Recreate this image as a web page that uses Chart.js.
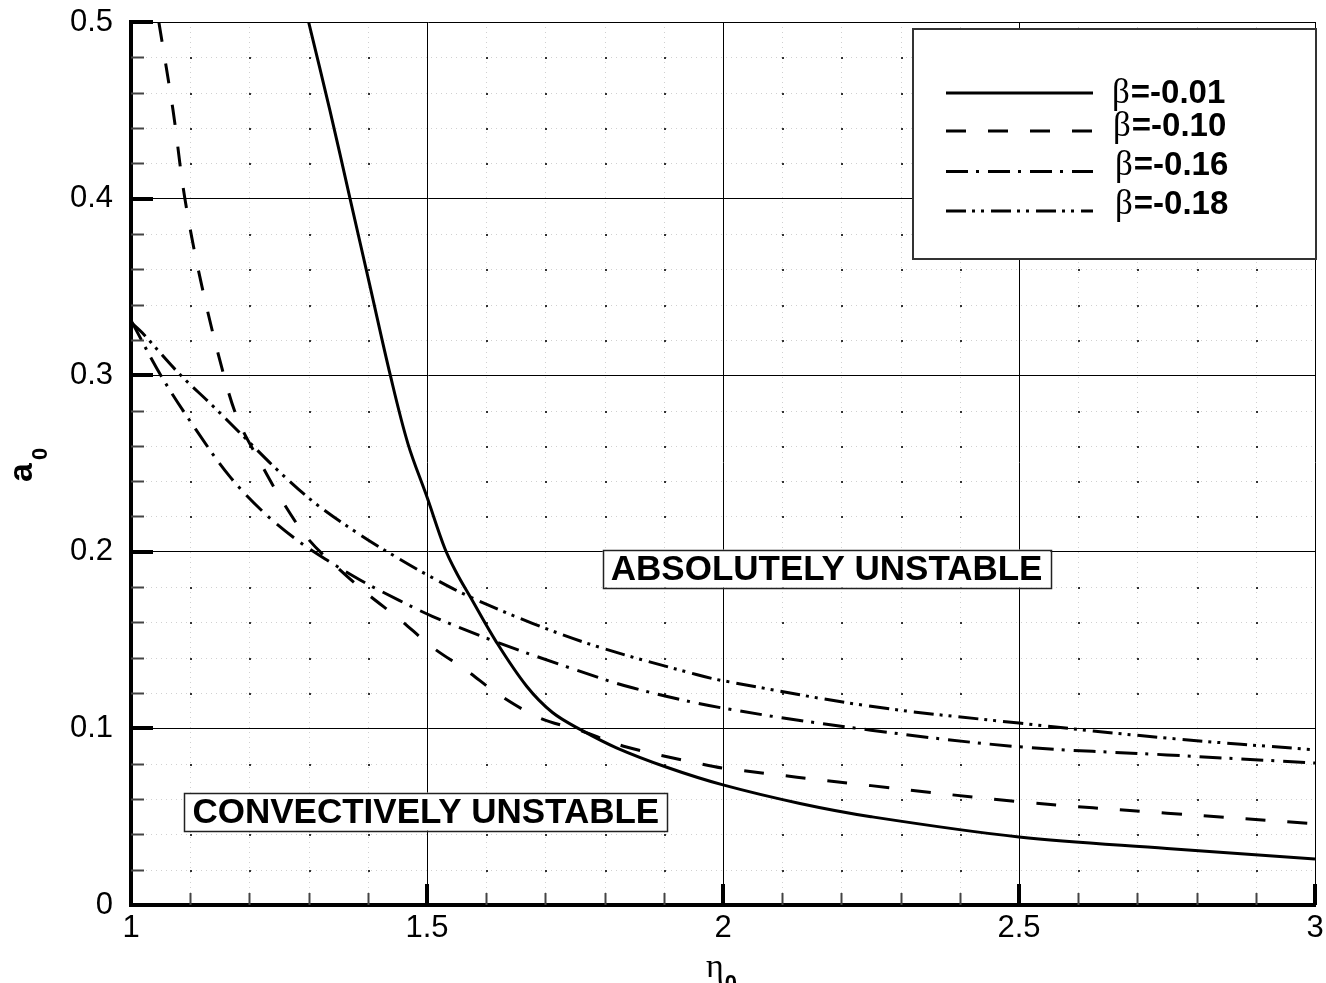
<!DOCTYPE html>
<html>
<head>
<meta charset="utf-8">
<title>a0 vs eta0</title>
<script src="https://cdn.jsdelivr.net/npm/chart.js@4.4.1/dist/chart.umd.min.js"></script>
<style>
  html, body { margin: 0; padding: 0; background: #fff; }
</style>
</head>
<body>
<canvas id="chart" width="1326" height="983"></canvas>
<script>
// curve data: eta0 (x) and a0 (y) for each beta
const etaB001 = [1.300, 1.336, 1.370, 1.404, 1.438, 1.468, 1.5, 1.53, 1.55, 1.573, 1.617, 1.668, 1.712, 1.761, 1.82, 1.905, 2, 2.13, 2.25, 2.5, 2.75, 3];
const aB001   = [0.5, 0.45, 0.4, 0.35, 0.3, 0.261, 0.231, 0.202, 0.188, 0.1745, 0.149, 0.124, 0.109, 0.099, 0.089, 0.078, 0.068, 0.0575, 0.050, 0.0385, 0.032, 0.026];

const etaB010 = [1.047, 1.071, 1.091, 1.12, 1.16, 1.183, 1.216, 1.255, 1.30, 1.352, 1.40, 1.453, 1.509, 1.566, 1.622, 1.69, 1.757, 1.837, 1.961, 2, 2.25, 2.5, 2.75, 3];
const aB010   = [0.5, 0.45, 0.4, 0.35, 0.296, 0.273, 0.252, 0.229, 0.207, 0.19, 0.176, 0.162, 0.146, 0.133, 0.119, 0.106, 0.099, 0.0895, 0.080, 0.0775, 0.0676, 0.0585, 0.052, 0.046];

const etaB016 = [1, 1.052, 1.11, 1.166, 1.222, 1.279, 1.335, 1.39, 1.453, 1.509, 1.617, 1.735, 1.847, 2, 2.25, 2.5, 2.75, 3];
const aB016   = [0.331, 0.299, 0.269, 0.243, 0.223, 0.207, 0.1945, 0.1835, 0.1725, 0.1635, 0.149, 0.135, 0.123, 0.1115, 0.099, 0.0896, 0.085, 0.0804];

const etaB018 = [1, 1.019, 1.081, 1.137, 1.194, 1.25, 1.313, 1.39, 1.453, 1.5, 1.566, 1.678, 1.791, 1.955, 2, 2.25, 2.5, 2.75, 3];
const aB018   = [0.330, 0.324, 0.301, 0.283, 0.264, 0.2455, 0.227, 0.209, 0.196, 0.187, 0.1755, 0.1595, 0.146, 0.1305, 0.127, 0.1125, 0.103, 0.0945, 0.0878];

const betaValues = ['-0.01', '-0.10', '-0.16', '-0.18'];
const xTickValues = [1, 1.5, 2, 2.5, 3];
const yTickValues = [0, 0.1, 0.2, 0.3, 0.4, 0.5];

// region annotations: text and the data point their box is centred on
const regionLabels = ['ABSOLUTELY UNSTABLE', 'CONVECTIVELY UNSTABLE'];
const regionAnchorX = [2.175, 1.498];
const regionAnchorY = [0.1905, 0.0529];

const SANS = '"Liberation Sans", Arial, Helvetica, sans-serif';
const SERIF = '"Liberation Serif", "Times New Roman", serif';

// tecplot-like line patterns
const dashStyles = [[], [20, 22], [22, 8, 3, 9], [20, 6, 3, 6, 3, 7]];

const toPoints = (xs, ys) => xs.map((x, i) => ({ x: x, y: ys[i] }));
const curves = [[etaB001, aB001], [etaB010, aB010], [etaB016, aB016], [etaB018, aB018]];

const datasets = curves.map((c, i) => ({
    label: 'β=' + betaValues[i],
    data: toPoints(c[0], c[1]),
    borderColor: '#000',
    borderWidth: 3,
    borderDash: dashStyles[i],
    pointRadius: 0,
    fill: false,
    tension: 0.35,
}));

// draws everything tecplot has that chart.js doesn't: minor grid, inward ticks,
// the boxed legend, region labels and subscripted axis titles
const tecplotDecor = {
    id: 'tecplotDecor',
    beforeDraw(chart) {
        const ctx = chart.ctx;
        const area = chart.chartArea;
        const xs = chart.scales.x, ys = chart.scales.y;
        ctx.save();
        ctx.strokeStyle = '#d0d0d0';
        ctx.lineWidth = 1;
        ctx.setLineDash([1, 4]);
        for (let i = 1; i < 20; i++) {
            if (i % 5 === 0) continue;
            const px = Math.round(xs.getPixelForValue(1 + i * 0.1)) + 0.5;
            ctx.beginPath(); ctx.moveTo(px, area.top); ctx.lineTo(px, area.bottom); ctx.stroke();
        }
        for (let j = 1; j < 25; j++) {
            if (j % 5 === 0) continue;
            const py = Math.round(ys.getPixelForValue(j * 0.02)) + 0.5;
            ctx.beginPath(); ctx.moveTo(area.left, py); ctx.lineTo(area.right, py); ctx.stroke();
        }
        // darker dots where the minor grid lines cross
        ctx.fillStyle = '#333';
        for (let i = 1; i < 20; i++) {
            if (i % 5 === 0) continue;
            const px = Math.round(xs.getPixelForValue(1 + i * 0.1));
            for (let j = 1; j < 25; j++) {
                if (j % 5 === 0) continue;
                const py = Math.round(ys.getPixelForValue(j * 0.02));
                ctx.fillRect(px, py, 2, 2);
            }
        }
        ctx.restore();
    },
    afterDraw(chart) {
        const ctx = chart.ctx;
        const area = chart.chartArea;
        const xs = chart.scales.x, ys = chart.scales.y;
        ctx.save();
        ctx.setLineDash([]);

        // inward ticks, minor then major
        ctx.lineWidth = 2;
        ctx.strokeStyle = '#444';
        for (let j = 1; j < 25; j++) {
            if (j % 5 === 0) continue;
            const py = Math.round(ys.getPixelForValue(j * 0.02)) + 0.5;
            ctx.beginPath(); ctx.moveTo(area.left, py); ctx.lineTo(area.left + 13, py); ctx.stroke();
        }
        for (let i = 1; i < 20; i++) {
            if (i % 5 === 0) continue;
            const px = Math.round(xs.getPixelForValue(1 + i * 0.1)) + 0.5;
            ctx.beginPath(); ctx.moveTo(px, area.bottom); ctx.lineTo(px, area.bottom - 12); ctx.stroke();
        }
        ctx.strokeStyle = '#000';
        ctx.lineWidth = 4;
        yTickValues.forEach(v => {
            const py = Math.round(ys.getPixelForValue(v));
            ctx.beginPath(); ctx.moveTo(area.left, py); ctx.lineTo(area.left + 22, py); ctx.stroke();
        });
        xTickValues.forEach(v => {
            const px = Math.round(xs.getPixelForValue(v));
            ctx.beginPath(); ctx.moveTo(px, area.bottom); ctx.lineTo(px, area.bottom - 21); ctx.stroke();
        });

        // boxed region labels
        ctx.font = 'bold 35px ' + SANS;
        ctx.textBaseline = 'middle';
        ctx.textAlign = 'center';
        regionLabels.forEach((txt, k) => {
            const cx = xs.getPixelForValue(regionAnchorX[k]);
            const cy = ys.getPixelForValue(regionAnchorY[k]);
            const w = ctx.measureText(txt).width + 16;
            const h = 38;
            ctx.fillStyle = '#fff';
            ctx.fillRect(cx - w / 2, cy - h / 2, w, h);
            ctx.lineWidth = 1.5;
            ctx.strokeStyle = '#222';
            ctx.strokeRect(Math.round(cx - w / 2) + 0.5, Math.round(cy - h / 2) + 0.5, Math.round(w), h);
            ctx.fillStyle = '#000';
            ctx.fillText(txt, cx, cy + 2);
        });

        // legend box in the top right corner
        const lx = area.right - 402, ly = area.top + 7, lw = 403, lh = 230;
        ctx.fillStyle = '#fff';
        ctx.fillRect(lx, ly, lw, lh);
        ctx.lineWidth = 2;
        ctx.strokeStyle = '#333';
        ctx.strokeRect(lx, ly, lw, lh);
        const lineY = [64, 102, 142.5, 182];
        const baseY = [74, 107, 146, 185];
        const textX = [199, 200, 202, 202];
        ctx.textAlign = 'left';
        ctx.textBaseline = 'alphabetic';
        datasets.forEach((ds, k) => {
            ctx.strokeStyle = '#000';
            ctx.lineWidth = 3;
            ctx.setLineDash(ds.borderDash);
            ctx.beginPath();
            ctx.moveTo(lx + 33, ly + lineY[k]);
            ctx.lineTo(lx + 180, ly + lineY[k]);
            ctx.stroke();
            ctx.setLineDash([]);
            ctx.fillStyle = '#000';
            ctx.font = '35px ' + SERIF;
            ctx.fillText('β', lx + textX[k], ly + baseY[k]);
            const bw = ctx.measureText('β').width;
            ctx.font = 'bold 33px ' + SANS;
            ctx.fillText('=' + betaValues[k], lx + textX[k] + bw + 1, ly + baseY[k]);
        });

        // y axis title: bold a with subscript 0, rotated
        ctx.save();
        ctx.translate(32, 482);
        ctx.rotate(-Math.PI / 2);
        ctx.fillStyle = '#000';
        ctx.font = 'bold 34px ' + SANS;
        ctx.fillText('a', 0, 0);
        const aw = ctx.measureText('a').width;
        ctx.font = 'bold 22px ' + SANS;
        ctx.fillText('0', aw + 3, 15);
        ctx.restore();

        // x axis title: eta with subscript 0, cut by the bottom of the page
        ctx.fillStyle = '#000';
        ctx.font = '34px ' + SERIF;
        ctx.fillText('η', 706, 977);
        const ew = ctx.measureText('η').width;
        ctx.font = 'bold 22px ' + SANS;
        ctx.fillText('0', 706 + ew + 1, 990);
        ctx.restore();
    }
};

const tickFont = { family: SANS, size: 31 };

new Chart(document.getElementById('chart'), {
    type: 'line',
    data: { datasets: datasets },
    options: {
        responsive: false,
        animation: false,
        events: [],
        layout: { padding: { top: 22, right: 11, left: 0, bottom: 0 } },
        plugins: {
            legend: { display: false },
            tooltip: { enabled: false },
        },
        scales: {
            x: {
                type: 'linear',
                min: 1,
                max: 3,
                afterFit: (scale) => {
                    scale.height = 78;
                    scale.paddingLeft = 0;
                    scale.paddingRight = 0;
                },
                afterBuildTicks: (scale) => { scale.ticks = xTickValues.map(v => ({ value: v })); },
                ticks: {
                    color: '#000',
                    font: tickFont,
                    padding: 5,
                    maxRotation: 0,
                    autoSkip: false,
                    callback: (v) => String(+v.toFixed(1)),
                },
                grid: { color: '#000', lineWidth: 1, drawTicks: false },
                border: { color: '#000', width: 4 },
            },
            y: {
                type: 'linear',
                min: 0,
                max: 0.5,
                afterFit: (scale) => {
                    scale.width = 131;
                    scale.paddingTop = 0;
                    scale.paddingBottom = 0;
                },
                afterBuildTicks: (scale) => { scale.ticks = yTickValues.map(v => ({ value: v })); },
                ticks: {
                    color: '#000',
                    font: tickFont,
                    padding: 18,
                    autoSkip: false,
                    callback: (v) => String(+v.toFixed(1)),
                },
                grid: { color: '#000', lineWidth: 1, drawTicks: false },
                border: { color: '#000', width: 4 },
            },
        },
    },
    plugins: [tecplotDecor],
});
</script>
</body>
</html>
